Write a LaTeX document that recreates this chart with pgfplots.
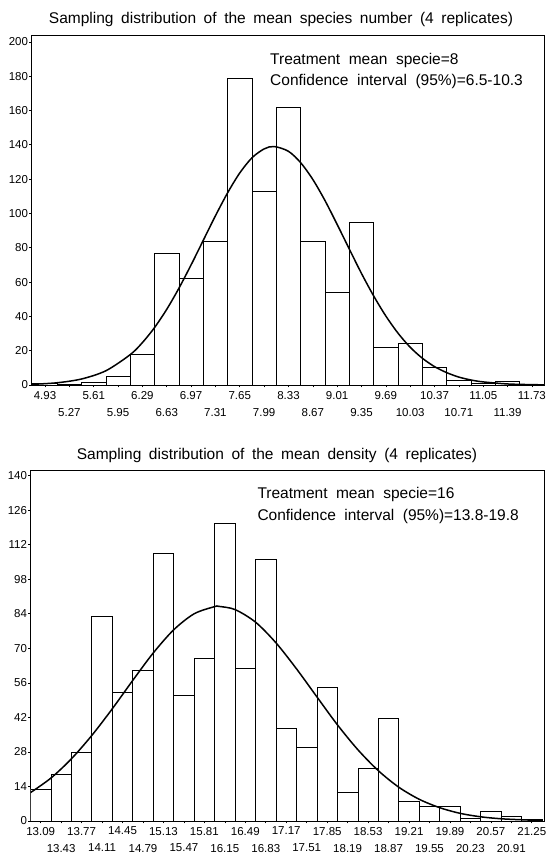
\documentclass[border=0pt]{standalone}
\usepackage{pgfplots}
\pgfplotsset{compat=1.18}
\usepackage{fontspec}
\setmainfont{Liberation Sans}

\pgfplotsset{
  histo/.style={
    scale only axis,
    axis line style={line width=0.8pt},
    tick pos=left,
    tick align=outside,
    major tick length=2.5pt,
    tick style={line width=0.6pt, black},
    /pgf/number format/assume math mode=true,
    ticklabel style={font=\fontsize{11.5}{13}\selectfont},
    yticklabel style={inner sep=1pt},
    ymin=0,
    extra x tick style={xticklabel style={yshift=-17pt}},
  },
  bars/.style={ybar, bar width=0.34, draw=black, fill=white, line width=0.7pt},
  fit/.style={smooth, black, line width=1.5pt},
}
\newcommand\titlefont{\fontsize{15.5}{18}\selectfont\spaceskip=7.6pt\relax}
\newcommand\notefont{\fontsize{15.5}{18}\selectfont\spaceskip=8.5pt\relax}

\begin{document}
\begin{tikzpicture}
\useasboundingbox (0,0) rectangle (547pt,858pt);

% species number
\begin{axis}[histo,
  at={(31.7pt,473pt)}, anchor=south west,
  width=512.3pt, height=350pt,
  xmin=4.744, xmax=11.899, ymax=204,
  ytick={0,20,...,200},
  xtick={4.93,5.61,6.29,6.97,7.65,8.33,9.01,9.69,10.37,11.05,11.73},
  xticklabels={4.93,5.61,6.29,6.97,7.65,8.33,9.01,9.69,10.37,11.05,11.73},
  extra x ticks={5.27,5.95,6.63,7.31,7.99,8.67,9.35,10.03,10.71,11.39},
  extra x tick labels={5.27,5.95,6.63,7.31,7.99,8.67,9.35,10.03,10.71,11.39},
]
\addplot[bars] coordinates {
(4.93,1) (5.27,0.5) (5.61,1.5) (5.95,5) (6.29,18) (6.63,77) (6.97,62)
(7.31,84) (7.65,179) (7.99,113) (8.33,162) (8.67,84) (9.01,54) (9.35,95)
(9.69,22) (10.03,24) (10.37,10) (10.71,2.5) (11.05,1) (11.39,2) (11.73,0.3)
};
\addplot[fit] coordinates {
(4.76,0.4) (5.10,1.3) (5.44,3.5) (5.78,8.3) (6.12,17.7) (6.29,24.7)
(6.46,33.5) (6.63,44.1) (6.80,56.4) (6.97,70.0) (7.14,84.3) (7.31,98.6)
(7.48,112.0) (7.65,123.6) (7.82,132.4) (7.99,137.6) (8.13,139) (8.33,136.2)
(8.50,129.6) (8.67,119.8) (8.84,107.5) (9.01,93.6) (9.18,79.2) (9.35,65.0)
(9.52,51.9) (9.69,40.2) (9.86,30.2) (10.03,22.0) (10.20,15.6) (10.37,10.7)
(10.54,7.2) (10.71,4.6) (10.88,2.9) (11.05,1.8) (11.39,0.6) (11.73,0.2)
(11.90,0.1)
};
\end{axis}

% density
\begin{axis}[histo,
  at={(30.7pt,37pt)}, anchor=south west,
  width=513.3pt, height=350.3pt,
  xmin=12.924, xmax=21.453, ymax=142,
  ytick={0,14,...,140},
  xtick={13.09,13.77,14.45,15.13,15.81,16.49,17.17,17.85,18.53,19.21,19.89,20.57,21.25},
  xticklabels={13.09,13.77,14.45,15.13,15.81,16.49,17.17,17.85,18.53,19.21,19.89,20.57,21.25},
  extra x ticks={13.43,14.11,14.79,15.47,16.15,16.83,17.51,18.19,18.87,19.55,20.23,20.91},
  extra x tick labels={13.43,14.11,14.79,15.47,16.15,16.83,17.51,18.19,18.87,19.55,20.23,20.91},
]
\addplot[bars] coordinates {
(13.09,13) (13.43,19) (13.77,28) (14.11,83) (14.45,52) (14.79,61)
(15.13,108.5) (15.47,51) (15.81,66) (16.15,120.5) (16.49,62) (16.83,106)
(17.17,37.5) (17.51,30) (17.85,54) (18.19,11.5) (18.53,21.5) (18.87,41.5)
(19.21,8) (19.55,6) (19.89,6) (20.23,1) (20.57,3.8) (20.91,2) (21.25,0.5)
};
\addplot[fit] coordinates {
(12.92,11.5) (13.26,17.4) (13.60,25.2) (13.94,34.7) (14.28,45.5)
(14.62,57.0) (14.96,68.1) (15.30,77.5) (15.64,84.0) (15.98,86.9)
(16.05,87) (16.32,85.7) (16.66,80.6) (17.00,72.2) (17.34,61.7)
(17.68,50.3) (18.02,39.0) (18.36,28.9) (18.70,20.4) (19.04,13.7)
(19.38,8.8) (19.72,5.4) (20.06,3.1) (20.40,1.7) (20.74,0.9)
(21.08,0.5) (21.42,0.2)
};
\end{axis}

\node[anchor=base, font=\titlefont] at (281pt,834pt)
  {Sampling distribution of the mean species number (4 replicates)};
\node[anchor=base, font=\titlefont] at (277pt,398pt)
  {Sampling distribution of the mean density (4 replicates)};
\begin{scope}[every node/.style={anchor=base west, inner sep=0pt, font=\notefont}]
\node at (270pt,793pt) {Treatment mean specie=8};
\node at (270pt,772pt) {Confidence interval (95\%)=6.5-10.3};
\node at (257.3pt,359pt) {Treatment mean specie=16};
\node at (257.3pt,337pt) {Confidence interval (95\%)=13.8-19.8};
\end{scope}
\end{tikzpicture}
\end{document}
